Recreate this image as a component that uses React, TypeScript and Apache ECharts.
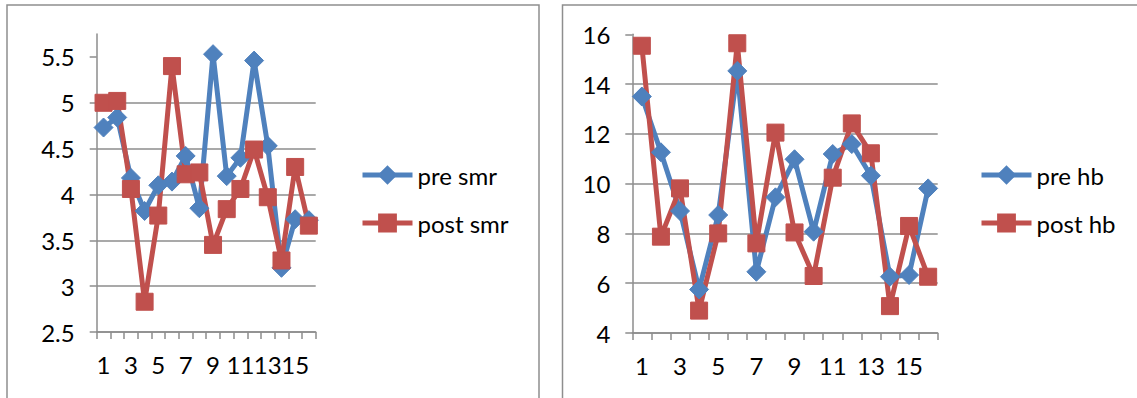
import React, { useEffect, useRef } from "react";
import * as echarts from "echarts";

// Sample numbers 1..16 shared by both panels
const categories = ["1", "2", "3", "4", "5", "6", "7", "8", "9", "10", "11", "12", "13", "14", "15", "16"];

// Left panel: smr before / after
const preSmr = [4.73, 4.84, 4.18, 3.82, 4.1, 4.14, 4.42, 3.85, 5.53, 4.2, 4.4, 5.46, 4.53, 3.2, 3.73, 3.72];
const postSmr = [5.0, 5.02, 4.06, 2.83, 3.77, 5.4, 4.22, 4.24, 3.45, 3.84, 4.06, 4.49, 3.97, 3.28, 4.3, 3.66];

// Right panel: hb before / after
const preHb = [13.5, 11.26, 8.9, 5.75, 8.74, 14.53, 6.46, 9.45, 10.98, 8.07, 11.19, 11.59, 10.32, 6.26, 6.33, 9.81];
const postHb = [15.54, 7.87, 9.81, 4.9, 8.0, 15.64, 7.6, 12.05, 8.04, 6.29, 10.24, 12.42, 11.22, 5.08, 8.3, 6.26];

// Value-axis tick labels
const smrTicks = [2.5, 3, 3.5, 4, 4.5, 5, 5.5];
const hbTicks = [4, 6, 8, 10, 12, 14, 16];

const BLUE = "#4F81BD";
const RED = "#C0504D";
const AXIS_GRAY = "#8c8c8c";
const FONT = "Lato";
const FONT_SIZE = 24;
const LINE_W = 5;

export default function App() {
  const ref = useRef<HTMLDivElement>(null);

  useEffect(() => {
    if (!ref.current) return;
    const chart = echarts.init(ref.current, undefined, { renderer: "svg" });

    const catAxis = (gridIndex: number) => ({
      type: "category" as const,
      gridIndex,
      data: categories,
      boundaryGap: true,
      axisLine: { show: true, lineStyle: { color: AXIS_GRAY, width: 1.5 } },
      axisTick: { show: true, interval: 0, length: 7, lineStyle: { color: AXIS_GRAY, width: 1.5 } },
      axisLabel: {
        interval: 0,
        // every other sample number is labelled: 1, 3, 5 ... 15
        formatter: (value: string, index: number) => (index % 2 === 0 ? value : ""),
        margin: 20,
        color: "#000",
        fontFamily: FONT,
        fontSize: FONT_SIZE,
        hideOverlap: false,
        showMinLabel: true,
        showMaxLabel: true,
      },
      splitLine: { show: false },
    });

    const valAxis = (gridIndex: number, min: number, max: number, interval: number, ticks: number[]) => ({
      type: "value" as const,
      gridIndex,
      min,
      max,
      interval,
      axisLine: { show: true, lineStyle: { color: AXIS_GRAY, width: 1.5 } },
      axisTick: { show: true, length: 7, customValues: ticks, lineStyle: { color: AXIS_GRAY, width: 1.5 } },
      axisLabel: {
        customValues: ticks,
        margin: 22,
        color: "#000",
        fontFamily: FONT,
        fontSize: FONT_SIZE,
      },
      splitLine: { show: true, showMaxLine: false, lineStyle: { color: AXIS_GRAY, width: 1.5 } },
    });

    const lineSeries = (
      name: string,
      data: number[],
      color: string,
      symbol: string,
      size: number,
      axisIndex: number
    ) => ({
      name,
      type: "line" as const,
      xAxisIndex: axisIndex,
      yAxisIndex: axisIndex,
      data,
      symbol,
      symbolSize: size,
      showAllSymbol: true,
      clip: false,
      lineStyle: { color, width: LINE_W },
      itemStyle: { color, borderColor: color, borderWidth: 1 },
      emphasis: { disabled: true },
    });

    const legend = (left: number, names: string[]) => ({
      data: names,
      orient: "vertical" as const,
      left,
      top: 163,
      padding: 0,
      itemWidth: 50,
      itemHeight: 21,
      itemGap: 24,
      selectedMode: false,
      lineStyle: { width: LINE_W },
      textStyle: { color: "#000", fontFamily: FONT, fontSize: FONT_SIZE },
    });

    chart.setOption({
      animation: false,
      backgroundColor: "#fff",
      grid: [
        { left: 96.7, top: 34, width: 219, height: 298, outerBoundsMode: "none", containLabel: false },
        { left: 632.3, top: 34.3, width: 305.4, height: 298.7, outerBoundsMode: "none", containLabel: false },
      ],
      xAxis: [catAxis(0), catAxis(1)],
      yAxis: [valAxis(0, 2.5, 5.75, 0.5, smrTicks), valAxis(1, 4, 16, 2, hbTicks)],
      legend: [legend(360, ["pre smr", "post smr"]), legend(979, ["pre hb", "post hb"])],
      series: [
        lineSeries("pre smr", preSmr, BLUE, "diamond", 19, 0),
        lineSeries("post smr", postSmr, RED, "rect", 17, 0),
        lineSeries("pre hb", preHb, BLUE, "diamond", 19, 1),
        lineSeries("post hb", postHb, RED, "rect", 17, 1),
      ],
      graphic: [
        {
          type: "rect",
          silent: true,
          shape: { x: 7, y: 5, width: 532, height: 420 },
          style: { fill: "none", stroke: "#8e8e8e", lineWidth: 1.5 },
        },
        {
          type: "rect",
          silent: true,
          shape: { x: 562.5, y: 5, width: 620, height: 420 },
          style: { fill: "none", stroke: "#8e8e8e", lineWidth: 1.5 },
        },
      ],
    });

    return () => chart.dispose();
  }, []);

  return (
    <div
      ref={ref}
      style={{ position: "fixed", left: 0, top: 0, width: 1137, height: 398, background: "#fff" }}
    />
  );
}
